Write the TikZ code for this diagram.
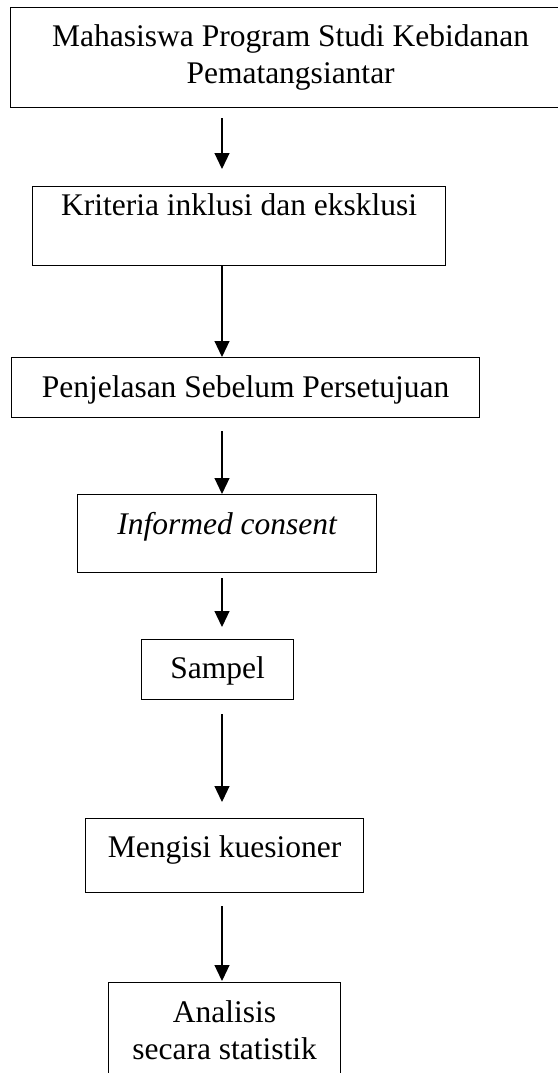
\documentclass[tikz,border=0pt]{standalone}
\usepackage{fontspec}
\setmainfont{Liberation Serif}
\usetikzlibrary{arrows.meta}

\begin{document}
\begin{tikzpicture}[x=1pt,y=-1pt,
  kotak/.style={draw,line width=1.2pt,anchor=north west,inner xsep=0pt,inner ysep=0pt,
    font=\fontsize{31.5}{37}\selectfont},
  panah/.style={line width=1.2pt,-{Triangle[width=15pt,length=16pt]}}]

\useasboundingbox (0,0) rectangle (557,1073);

% kotak alur
\node[kotak,minimum width=560pt,minimum height=100pt,align=center] (mhs) at (10,7)
  {Mahasiswa Program Studi Kebidanan\\Pematangsiantar};
\node[kotak,minimum width=413pt,text height=29pt,text depth=50pt] (krit) at (32,186)
  {Kriteria inklusi dan eksklusi};
\node[kotak,minimum width=468pt,text height=40pt,text depth=20pt] (psp) at (11,357)
  {Penjelasan Sebelum Persetujuan};
\node[kotak,minimum width=299pt,text height=40pt,text depth=38pt] (ic) at (77,494)
  {\itshape Informed consent};
\node[kotak,minimum width=152pt,text height=39pt,text depth=21pt] (smp) at (141,639)
  {Sampel};
\node[kotak,minimum width=278pt,text height=39pt,text depth=35pt] (kues) at (85,818)
  {Mengisi kuesioner};
\node[kotak,minimum width=232pt,minimum height=96pt,align=center] (anl) at (108,982)
  {Analisis\\secara statistik};

% panah
\coordinate (sumbu) at (222,0);
\foreach \a/\b/\s/\e in {mhs/krit/10/17, krit/psp/0/0, psp/ic/13/0,
  ic/smp/5/12, smp/kues/14/16, kues/anl/13/1}
  \draw[panah,shorten <=\s pt,shorten >=\e pt] (\a.south -| sumbu) -- (\b.north -| sumbu);

\end{tikzpicture}
\end{document}
